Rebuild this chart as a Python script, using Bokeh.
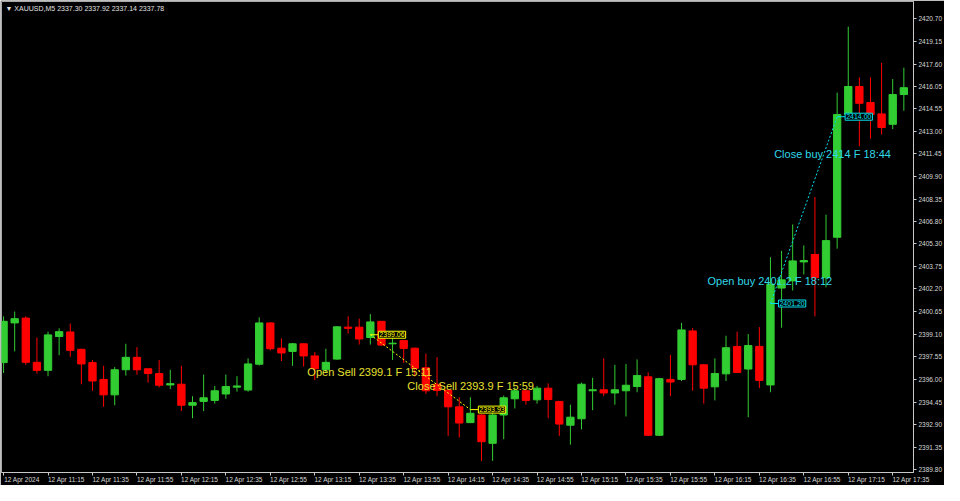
from bokeh.plotting import figure
from bokeh.models import ColumnDataSource, FixedTicker, Label, Range1d, LinearAxis
from bokeh.embed import file_html
from bokeh.resources import INLINE

# ---------------- data ----------------
opens = [2397.15, 2399.87, 2400.20, 2397.17, 2396.62, 2398.94, 2399.25, 2398.06, 2397.15, 2396.00,
         2394.94, 2396.66, 2397.51, 2396.73, 2396.40, 2395.62, 2395.67, 2394.23, 2394.49, 2394.56,
         2395.00, 2395.47, 2395.27, 2397.04, 2399.87, 2398.14, 2397.92, 2398.44, 2397.61, 2396.66,
         2397.39, 2399.58, 2399.58, 2398.87, 2399.98, 2398.44, 2398.66, 2398.14, 2396.80, 2395.67,
         2395.27, 2394.12, 2393.04, 2393.56, 2391.62, 2393.56, 2394.67, 2395.22, 2394.60, 2395.40,
         2394.49, 2392.86, 2393.30, 2395.22, 2395.29, 2395.07, 2395.22, 2395.51, 2396.18, 2392.17,
         2396.00, 2396.00, 2399.32, 2397.00, 2395.49, 2396.38, 2398.26, 2396.71, 2398.26, 2395.62,
         2402.26, 2402.75, 2404.05, 2404.56, 2402.97, 2405.74, 2414.15, 2416.07, 2414.97, 2414.19,
         2413.48, 2415.52]
highs = [2400.32, 2400.65, 2400.32, 2398.87, 2399.27, 2399.50, 2399.83, 2398.10, 2397.33, 2396.93,
         2396.84, 2398.44, 2398.21, 2396.73, 2397.33, 2396.66, 2396.93, 2394.85, 2396.33, 2395.55,
         2396.33, 2396.22, 2397.44, 2400.25, 2399.90, 2398.81, 2398.50, 2398.47, 2397.88, 2398.10,
         2399.65, 2400.32, 2400.16, 2400.47, 2400.00, 2398.87, 2398.70, 2398.17, 2397.77, 2397.53,
         2395.30, 2394.78, 2394.78, 2393.60, 2393.89, 2394.89, 2395.45, 2395.25, 2395.55, 2395.73,
         2394.52, 2394.27, 2395.78, 2396.11, 2397.44, 2397.00, 2397.06, 2397.37, 2396.48, 2396.11,
         2397.66, 2399.87, 2399.52, 2397.03, 2397.44, 2398.99, 2399.27, 2399.10, 2399.58, 2404.37,
         2404.81, 2406.62, 2405.18, 2408.50, 2407.29, 2415.65, 2420.17, 2416.70, 2416.70, 2417.69,
         2416.58, 2417.36]
lows = [2396.44, 2397.92, 2397.00, 2396.40, 2396.22, 2397.66, 2397.55, 2395.67, 2395.22, 2394.12,
        2394.23, 2396.26, 2396.33, 2395.78, 2395.45, 2395.34, 2393.83, 2393.34, 2393.83, 2394.34,
        2394.67, 2395.16, 2395.16, 2396.95, 2397.99, 2397.26, 2396.93, 2396.88, 2395.95, 2396.44,
        2397.35, 2399.14, 2398.39, 2398.39, 2398.32, 2397.33, 2397.13, 2396.20, 2395.00, 2394.85,
        2392.13, 2392.02, 2393.00, 2390.42, 2390.42, 2391.90, 2394.01, 2394.27, 2394.34, 2393.34,
        2392.13, 2391.53, 2392.57, 2393.89, 2394.85, 2394.27, 2393.46, 2395.12, 2392.12, 2392.12,
        2394.85, 2395.89, 2395.22, 2394.34, 2394.56, 2395.89, 2396.45, 2393.41, 2395.40, 2395.12,
        2399.54, 2402.09, 2403.19, 2400.32, 2402.31, 2404.96, 2414.06, 2411.98, 2412.49, 2412.78,
        2413.15, 2414.41]
closes = [2399.98, 2400.16, 2397.17, 2396.62, 2399.05, 2399.27, 2397.99, 2397.06, 2395.89, 2394.94,
          2396.66, 2397.51, 2396.66, 2396.40, 2395.60, 2395.71, 2394.23, 2394.41, 2394.74, 2395.22,
          2395.51, 2395.55, 2397.06, 2399.87, 2398.10, 2397.81, 2398.44, 2397.61, 2396.73, 2397.17,
          2399.60, 2399.50, 2398.77, 2399.94, 2398.35, 2398.48, 2398.12, 2396.76, 2395.22, 2395.24,
          2394.12, 2393.01, 2393.68, 2391.73, 2393.56, 2394.74, 2395.22, 2394.56, 2395.40, 2394.62,
          2392.94, 2393.41, 2395.67, 2395.29, 2395.07, 2395.29, 2395.60, 2396.26, 2392.17, 2396.05,
          2395.82, 2399.39, 2397.00, 2395.40, 2396.40, 2398.17, 2396.48, 2398.32, 2395.93, 2402.53,
          2402.82, 2404.12, 2404.14, 2402.97, 2405.51, 2414.15, 2416.07, 2414.92, 2414.15, 2413.26,
          2415.52, 2415.99]

time_tick_bars = [0, 4, 8, 12, 16, 20, 24, 28, 32, 36, 40, 44, 48, 52, 56, 60, 64, 68, 72, 76, 80]
time_tick_labels = ["12 Apr 2024", "12 Apr 11:15", "12 Apr 11:35", "12 Apr 11:55", "12 Apr 12:15",
                    "12 Apr 12:35", "12 Apr 12:55", "12 Apr 13:15", "12 Apr 13:35", "12 Apr 13:55",
                    "12 Apr 14:15", "12 Apr 14:35", "12 Apr 14:55", "12 Apr 15:15", "12 Apr 15:35",
                    "12 Apr 15:55", "12 Apr 16:15", "12 Apr 16:35", "12 Apr 16:55", "12 Apr 17:15",
                    "12 Apr 17:35"]
price_ticks = [2420.70, 2419.15, 2417.60, 2416.05, 2414.55, 2413.00, 2411.45, 2409.90, 2408.35,
               2406.80, 2405.30, 2403.75, 2402.20, 2400.65, 2399.10, 2397.55, 2396.00, 2394.45,
               2392.90, 2391.35, 2389.80]
price_tick_labels = ["%.2f" % t for t in price_ticks]

header_text = "\u25BC XAUUSD,M5  2337.30 2337.92 2337.14 2337.78"

# trades
trade_open_bar = [33, 69]
trade_open_price = [2399.06, 2401.20]
trade_close_bar = [42, 75]
trade_close_price = [2393.93, 2414.00]
trade_open_text = ["Open Sell 2399.1 F  15:11", "Open buy 2401.2 F  18:12"]
trade_close_text = ["Close Sell 2393.9 F  15:59", "Close buy 2414 F  18:44"]

# ---------------- styling ----------------
UP = "#32CD32"
DOWN = "#FF0000"
TRADE_LINE = ["#FFFF00", "#00E0F0"]
TRADE_TEXT = ["#E8E030", "#30D8E8"]
AXIS = "#C8C8C8"
LABEL_COLOR = "#D8D8D8"
FONT = "Liberation Sans"
TIME_LABEL_SHIFT = 1.65   # half a label width, in bars: labels start at their tick

p = figure(width=944, height=485,
           x_range=Range1d(-0.186, 81.87), y_range=Range1d(2389.62, 2421.895),
           y_axis_location="right", output_backend="svg", toolbar_location=None,
           background_fill_color="black", border_fill_color="black",
           min_border_left=1, min_border_top=1, min_border_right=0, min_border_bottom=0)
p.outline_line_color = "#A8A8A8"
p.xgrid.visible = False
p.ygrid.visible = False

bars = list(range(len(opens)))
colors = [UP if c >= o else DOWN for o, c in zip(opens, closes)]
src = ColumnDataSource(dict(
    x=bars, high=highs, low=lows,
    top=[max(o, c) for o, c in zip(opens, closes)],
    bottom=[min(o, c) for o, c in zip(opens, closes)],
    color=colors))
p.segment(x0="x", x1="x", y0="low", y1="high", line_color="color", line_width=1, source=src)
p.vbar(x="x", width=0.66, top="top", bottom="bottom", fill_color="color",
       line_color="color", line_width=1, source=src)

# axes
p.xaxis.ticker = FixedTicker(ticks=time_tick_bars)
p.xaxis.major_label_overrides = {b: "" for b in time_tick_bars}
p.yaxis.ticker = FixedTicker(ticks=price_ticks)
p.yaxis.major_label_overrides = {t: l for t, l in zip(price_ticks, price_tick_labels)}
for ax in (p.xaxis[0], p.yaxis[0]):
    ax.axis_line_color = AXIS
    ax.major_tick_line_color = AXIS
    ax.major_tick_out = 3
    ax.major_tick_in = 0
    ax.minor_tick_line_color = None
    ax.major_label_text_color = LABEL_COLOR
    ax.major_label_text_font = FONT
    ax.major_label_text_font_size = "6.5px"
    ax.major_label_standoff = 2
p.xaxis[0].major_label_standoff = 0

# time labels: a second, line-less axis whose centred labels begin at each tick
label_pos = [b + TIME_LABEL_SHIFT for b in time_tick_bars]
time_axis = LinearAxis(ticker=FixedTicker(ticks=label_pos),
                       major_label_overrides={x: l for x, l in zip(label_pos, time_tick_labels)},
                       axis_line_color=None, major_tick_line_color=None, minor_tick_line_color=None,
                       major_tick_out=0, major_tick_in=0, major_label_standoff=0,
                       major_label_text_color=LABEL_COLOR, major_label_text_font=FONT,
                       major_label_text_font_size="6.5px")
p.add_layout(time_axis, "below")

# trades
for k in range(len(trade_open_bar)):
    col = TRADE_LINE[k]
    p.segment(x0=[trade_open_bar[k]], y0=[trade_open_price[k]],
              x1=[trade_close_bar[k]], y1=[trade_close_price[k]],
              line_color=col, line_width=1, line_dash="2 2")
    for b, pr in ((trade_open_bar[k], trade_open_price[k]), (trade_close_bar[k], trade_close_price[k])):
        p.segment(x0=[b], y0=[pr], x1=[b + 0.7], y1=[pr], line_color=col, line_width=1)
        p.add_layout(Label(x=b, y=pr, x_offset=8, text="%.2f" % pr,
                           text_align="left", text_baseline="middle",
                           text_font=FONT, text_font_size="7px", text_color=col,
                           border_line_color=col, border_line_width=1,
                           background_fill_color="black", padding=1))
    open_dy = -37 if k == 0 else 23
    close_dy = 23.5 if k == 0 else -37
    p.add_layout(Label(x=trade_open_bar[k], y=trade_open_price[k], x_offset=-63, y_offset=open_dy,
                       text=trade_open_text[k], text_align="left", text_baseline="middle",
                       text_font=FONT, text_font_size="11px", text_color=TRADE_TEXT[k]))
    p.add_layout(Label(x=trade_close_bar[k], y=trade_close_price[k], x_offset=-63, y_offset=close_dy,
                       text=trade_close_text[k], text_align="left", text_baseline="middle",
                       text_font=FONT, text_font_size="11px", text_color=TRADE_TEXT[k]))

# header
p.add_layout(Label(x=4, y=p.y_range.end, x_units="screen", y_units="data", y_offset=-7,
                   text=header_text, text_align="left", text_baseline="middle",
                   text_font=FONT, text_font_size="7px", text_color="#E0E0E0"))

open("out.html", "w").write(file_html(p, INLINE))
